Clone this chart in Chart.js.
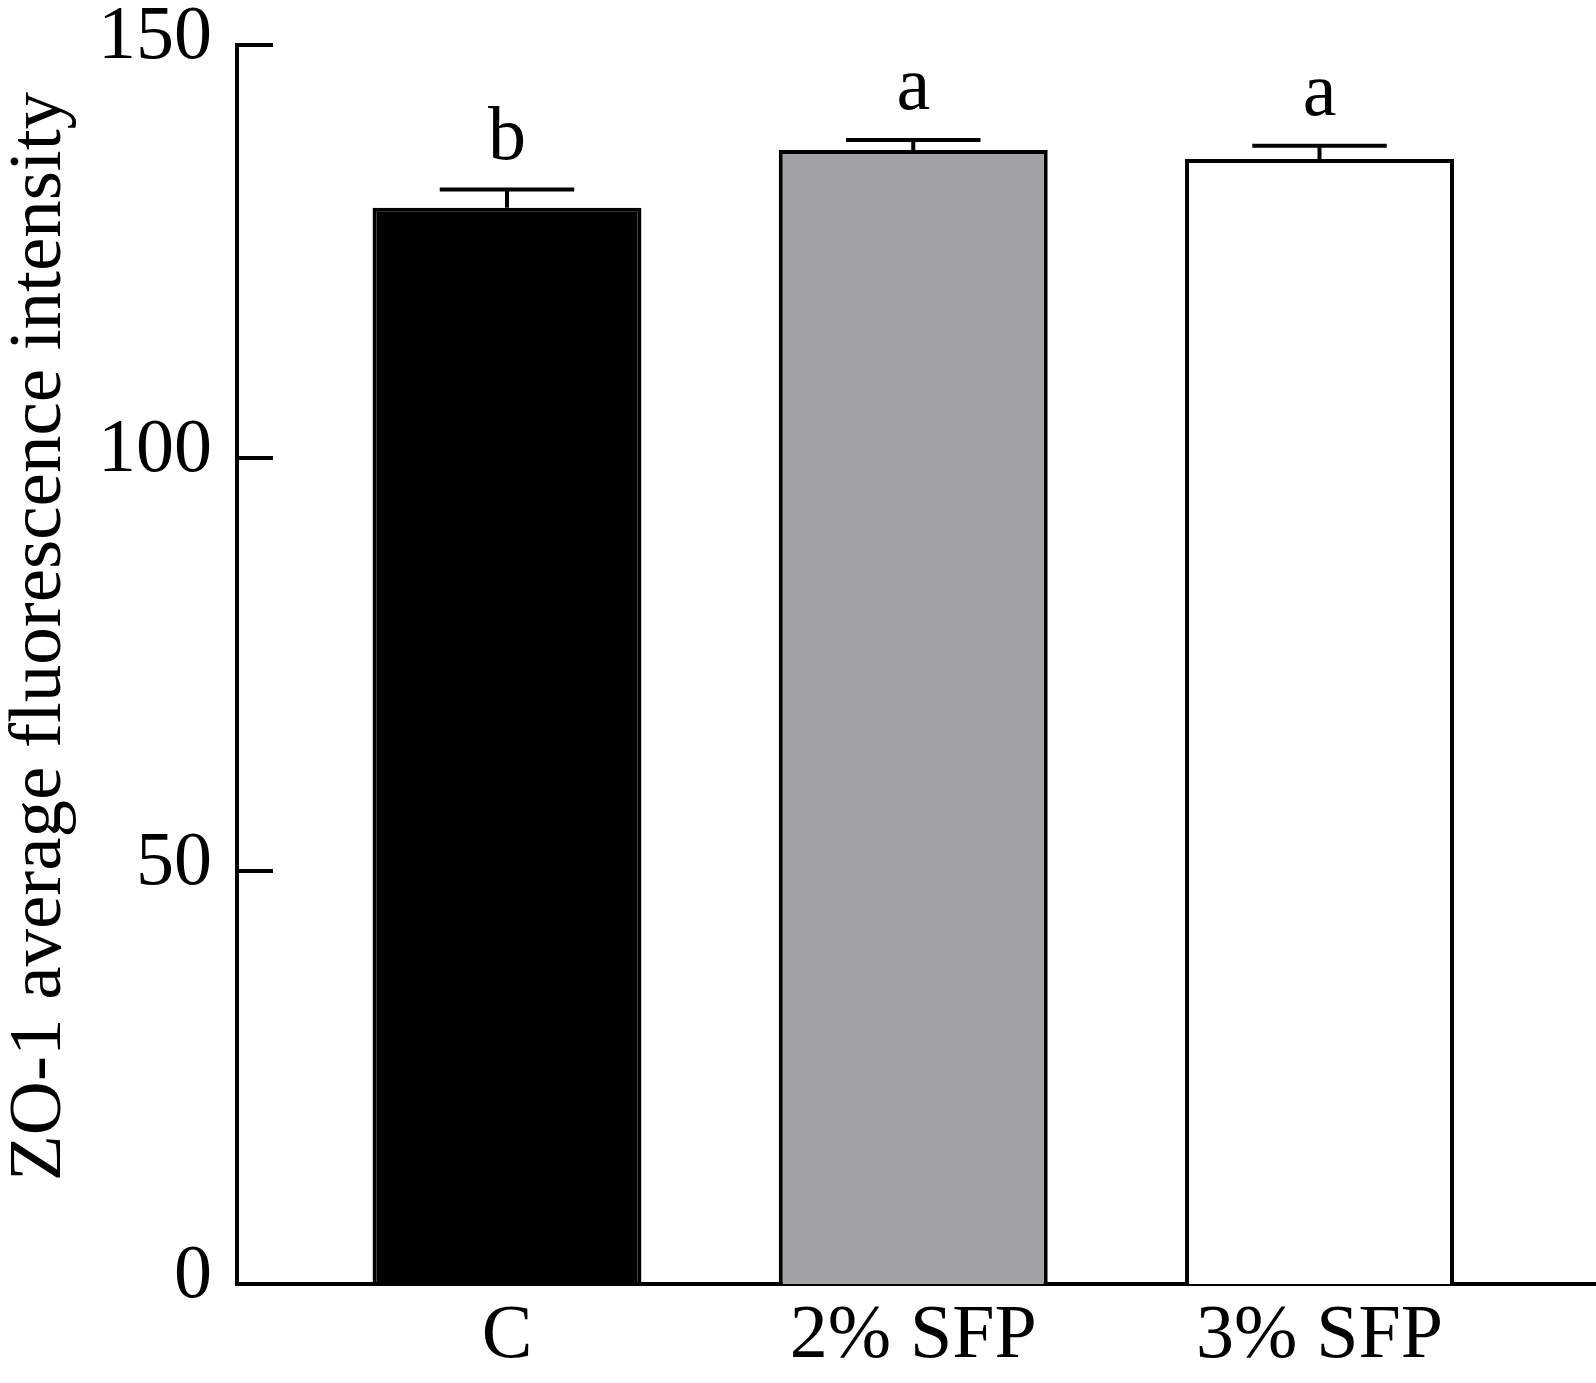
<!DOCTYPE html>
<html>
<head>
<meta charset="utf-8">
<script src="https://cdn.jsdelivr.net/npm/chart.js@4.4.1/dist/chart.umd.min.js"></script>
<style>
html,body{margin:0;padding:0;background:#fff;}
#wrap{width:1596px;height:1383px;position:relative;}
</style>
</head>
<body>
<div id="wrap"><canvas id="c"></canvas></div>
<script>
const categories = ['C', '2% SFP', '3% SFP'];
const means = [130.3, 137.3, 136.2];
const sem = [2.2, 1.2, 1.6];
const letters = ['b', 'a', 'a'];
const yTicks = [0, 50, 100, 150];
const yTitle = 'ZO-1 average fluorescence intensity';
const barColors = ['#000000', '#a3a2a7', '#ffffff'];

const FONT = '"Liberation Serif", "Times New Roman", Times, serif';

const errorBars = {
  id: 'errorBars',
  afterDatasetsDraw(chart) {
    const ctx = chart.ctx;
    const meta = chart.getDatasetMeta(0);
    const y = chart.scales.y;
    ctx.save();
    ctx.strokeStyle = '#000';
    ctx.lineWidth = 4;
    ctx.lineCap = 'butt';
    meta.data.forEach((bar, i) => {
      const top = y.getPixelForValue(means[i] + sem[i]);
      const half = bar.width / 4;
      ctx.beginPath();
      ctx.moveTo(bar.x, bar.y);
      ctx.lineTo(bar.x, top);
      ctx.moveTo(bar.x - half, top);
      ctx.lineTo(bar.x + half, top);
      ctx.stroke();
      ctx.fillStyle = '#000';
      ctx.font = '76px ' + FONT;
      ctx.textAlign = 'center';
      ctx.textBaseline = 'alphabetic';
      ctx.fillText(letters[i], bar.x, top - 31);
    });
    ctx.restore();
  }
};

const innerTicks = {
  id: 'innerTicks',
  afterDraw(chart) {
    const y = chart.scales.y, a = chart.chartArea, ctx = chart.ctx;
    ctx.save();
    ctx.strokeStyle = '#000';
    ctx.lineWidth = 4;
    yTicks.forEach(v => {
      const p = y.getPixelForValue(v);
      ctx.beginPath();
      ctx.moveTo(a.left, p);
      ctx.lineTo(a.left + 36, p);
      ctx.stroke();
    });
    ctx.restore();
  }
};

const yTitlePlugin = {
  id: 'yTitlePlugin',
  afterDraw(chart) {
    const a = chart.chartArea, ctx = chart.ctx;
    ctx.save();
    ctx.translate(40, (a.top + a.bottom) / 2 - 28);
    ctx.rotate(-Math.PI / 2);
    ctx.font = '75px ' + FONT;
    ctx.textAlign = 'center';
    ctx.textBaseline = 'middle';
    ctx.fillStyle = '#000';
    ctx.fillText(yTitle, 0, 0);
    ctx.restore();
  }
};

new Chart(document.getElementById('c'), {
  type: 'bar',
  data: {
    datasets: [{
      data: categories.map((c, i) => ({ x: i, y: means[i] })),
      backgroundColor: barColors,
      borderColor: '#000',
      borderWidth: 4,
      barPercentage: 0.662,
      categoryPercentage: 1
    }]
  },
  options: {
    responsive: true,
    maintainAspectRatio: false,
    animation: false,
    devicePixelRatio: 1,
    layout: { padding: { top: 45, right: 0, left: 0, bottom: 0 } },
    plugins: { legend: { display: false }, tooltip: { enabled: false } },
    scales: {
      x: {
        type: 'linear',
        offset: false,
        min: -0.6646,
        max: 2.6806,
        grid: { display: false, drawTicks: false, offset: false },
        border: { display: true, color: '#000', width: 4 },
        afterBuildTicks(s) { s.ticks = categories.map((_, i) => ({ value: i })); },
        ticks: {
          callback: (v) => categories[Math.round(v)] ?? '',
          font: { family: FONT, size: 76 },
          color: '#000',
          padding: 7,
          maxRotation: 0,
          autoSkip: false
        },
        afterFit(s) { s.height = 99; s.paddingLeft = 0; s.paddingRight = 0; }
      },
      y: {
        min: 0,
        max: 150,
        grid: { display: false, drawTicks: false },
        border: { display: true, color: '#000', width: 4 },
        afterBuildTicks(s) { s.ticks = yTicks.map(v => ({ value: v })); },
        ticks: {
          font: { family: FONT, size: 76 },
          color: '#000',
          padding: 25,
          labelOffset: -7
        },
        afterFit(s) { s.width = 237; s.paddingTop = 0; s.paddingBottom = 0; }
      }
    }
  },
  plugins: [errorBars, innerTicks, yTitlePlugin]
});
</script>
</body>
</html>
